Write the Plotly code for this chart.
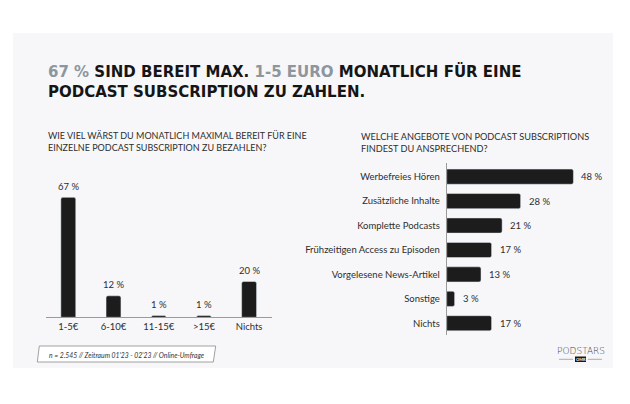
import plotly.graph_objects as go

W, H = 630, 404

# ---- data ----
left_categories = ["1-5€", "6-10€", "11-15€", ">15€", "Nichts"]
left_values = [67, 12, 1, 1, 20]

right_categories = ["Werbefreies Hören", "Zusätzliche Inhalte", "Komplette Podcasts",
                    "Frühzeitigen Access zu Episoden", "Vorgelesene News-Artikel",
                    "Sonstige", "Nichts"]
right_values = [48, 28, 21, 17, 13, 3, 17]

title_line1 = ("<span style='color:#8d969d'>67 %</span> SIND BEREIT MAX. "
               "<span style='color:#8d969d'>1-5 EURO</span> MONATLICH FÜR EINE")
title_line2 = "PODCAST SUBSCRIPTION ZU ZAHLEN."
sub_left = "WIE VIEL WÄRST DU MONATLICH MAXIMAL BEREIT FÜR EINE<br>EINZELNE PODCAST SUBSCRIPTION ZU BEZAHLEN?"
sub_right = "WELCHE ANGEBOTE VON PODCAST SUBSCRIPTIONS<br>FINDEST DU ANSPRECHEND?"
footnote = "n = 2.545 // Zeitraum 01'23 - 02'23 // Online-Umfrage"


def px(x):
    return x / W


def py(y):
    return 1 - y / H


BAR = "#1c1c1c"
TXT = "#2e2e2e"
FONT = "Lato"

fig = go.Figure()

fig.add_trace(go.Bar(x=left_categories, y=left_values, marker_color=BAR,
                     width=0.33, xaxis="x", yaxis="y", hoverinfo="skip"))
fig.add_trace(go.Bar(x=right_values, y=right_categories, orientation="h",
                     marker_color=BAR, width=0.62, xaxis="x2", yaxis="y2",
                     hoverinfo="skip"))

annotations = []
for c, v in zip(left_categories, left_values):
    annotations.append(dict(x=c, y=v, xref="x", yref="y", text=f"{v} %",
                            showarrow=False, yshift=11, yanchor="middle",
                            font=dict(family=FONT, size=9.5, color=TXT)))
for c, v in zip(right_categories, right_values):
    annotations.append(dict(x=v, y=c, xref="x2", yref="y2", text=f"{v} %",
                            showarrow=False, xshift=6, xanchor="left",
                            yanchor="middle",
                            font=dict(family=FONT, size=9.5, color=TXT)))

# titles
annotations.append(dict(x=px(46), y=py(72), xref="paper", yref="paper",
                        text=f"<b>{title_line1}</b>", showarrow=False,
                        xanchor="left", yanchor="middle",
                        font=dict(family="DejaVu Sans", size=15, color="#151515")))
annotations.append(dict(x=px(46), y=py(92), xref="paper", yref="paper",
                        text=f"<b>{title_line2}</b>", showarrow=False,
                        xanchor="left", yanchor="middle",
                        font=dict(family="DejaVu Sans", size=15, color="#151515")))
annotations.append(dict(x=px(46), y=py(141), xref="paper", yref="paper",
                        text=sub_left, showarrow=False, xanchor="left",
                        yanchor="middle", align="left",
                        font=dict(family=FONT, size=9, color=TXT)))
annotations.append(dict(x=px(359), y=py(142), xref="paper", yref="paper",
                        text=sub_right, showarrow=False, xanchor="left",
                        yanchor="middle", align="left",
                        font=dict(family=FONT, size=9.2, color=TXT)))
# footnote
annotations.append(dict(x=px(126.5), y=py(354.5), xref="paper", yref="paper",
                        text=f"<i>{footnote}</i>", showarrow=False,
                        xanchor="center", yanchor="middle",
                        font=dict(family=FONT, size=6.8, color="#333")))
# logo
annotations.append(dict(x=px(580.8), y=py(351), xref="paper", yref="paper",
                        text="PODSTARS", showarrow=False,
                        xanchor="center", yanchor="middle",
                        font=dict(family="DejaVu Sans", size=9, color="#444",
                                  weight=300)))
annotations.append(dict(x=px(580.5), y=py(359.3), xref="paper", yref="paper",
                        text="<b>OMR</b>", showarrow=False,
                        xanchor="center", yanchor="middle",
                        font=dict(family=FONT, size=4, color="#ffffff")))

shapes = [
    dict(type="rect", xref="paper", yref="paper", x0=px(13), x1=px(613),
         y0=py(368), y1=py(33), fillcolor="#f7f7f9", line_width=0, layer="below"),
    dict(type="path", xref="paper", yref="paper",
         path=(f"M {px(39.3)},{py(346)} L {px(215.7)},{py(346)} "
               f"L {px(213.3)},{py(362)} L {px(37.3)},{py(362)} Z"),
         fillcolor="#ffffff", line=dict(color="#8a8a8a", width=0.8), layer="below"),
    dict(type="line", xref="paper", yref="paper", x0=px(559), x1=px(573),
         y0=py(359.3), y1=py(359.3), line=dict(color="#999", width=0.8)),
    dict(type="line", xref="paper", yref="paper", x0=px(588), x1=px(602),
         y0=py(359.3), y1=py(359.3), line=dict(color="#999", width=0.8)),
    dict(type="rect", xref="paper", yref="paper", x0=px(575), x1=px(586),
         y0=py(362), y1=py(356.5), fillcolor="#1a1a1a", line_width=0),
]

fig.update_layout(
    width=W, height=H, margin=dict(l=0, r=0, t=0, b=0),
    paper_bgcolor="#ffffff", plot_bgcolor="rgba(0,0,0,0)",
    showlegend=False, barcornerradius=2,
    annotations=annotations, shapes=shapes,
    xaxis=dict(domain=[px(45.7), px(271.7)], range=[-0.5, 4.5], showgrid=False,
               zeroline=False, showline=True, linecolor="#9a9a9a", linewidth=1,
               ticks="", tickfont=dict(family=FONT, size=9.5, color=TXT),
               fixedrange=True),
    yaxis=dict(domain=[py(317.3), py(180)], range=[0, (317.3 - 180) / 1.79],
               visible=False, fixedrange=True),
    xaxis2=dict(domain=[px(446.7), px(612)], range=[0, (612 - 446.7) / 2.64],
                visible=False, fixedrange=True),
    yaxis2=dict(domain=[py(335), py(163)], range=[6.48, -0.56], showgrid=False,
                zeroline=False, showline=True, linecolor="#9a9a9a", linewidth=1,
                ticks="", ticklabelstandoff=4,
                tickfont=dict(family=FONT, size=9.5, color=TXT),
                anchor="x2", fixedrange=True),
)
fig.data[1].update(xaxis="x2", yaxis="y2")

fig.write_html("out.html", config={"displayModeBar": False},
               post_script="document.body.style.margin='0';")
